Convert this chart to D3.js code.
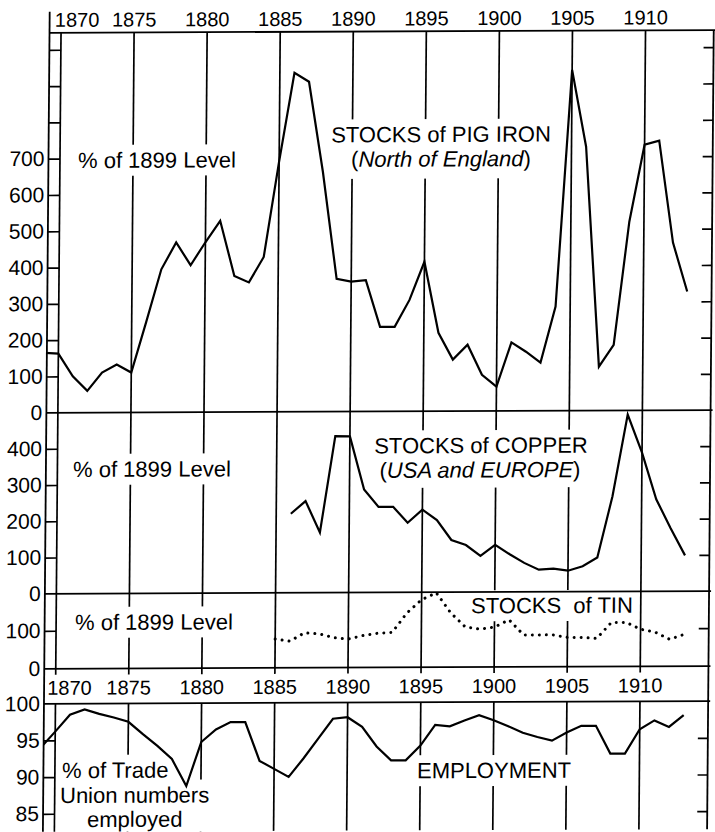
<!DOCTYPE html>
<meta charset="utf-8">
<head>
    <style>
        body {margin: 0; background: #fff;}
        svg text {font-family: "Liberation Sans", Arial, Helvetica, sans-serif; fill: #000;}
        .grid {stroke: #000; stroke-width: 1.7;}
        .frame {stroke: #000; stroke-width: 1.8; fill: none;}
        .series {fill: none; stroke: #000; stroke-width: 2.2;}
        .tin {fill: none; stroke: #000; stroke-width: 3; stroke-linecap: round; stroke-dasharray: 0.01 7;}
        .label {font-size: 22px;}
        .year {font-size: 20px;}
    </style>
    <script src="https://d3js.org/d3.v7.min.js"></script>
</head>
<body>
<script>

    // years on the x axis
    var years = d3.range(1869, 1914),
        copperYears = d3.range(1886, 1914),
        tinYears = d3.range(1885, 1914),
        tickYears = [1870, 1875, 1880, 1885, 1890, 1895, 1900, 1905, 1910];

    // stocks of pig iron, north of England, % of 1899 level (1869-1913)
    var pigIron = [165, 163, 100, 60, 110, 132, 110, 250, 394, 468,
                   405, 468, 527, 375, 357, 427, 690, 934, 909, 661,
                   366, 358, 362, 233, 233, 307, 412, 216, 142, 183,
                   100, 67, 189, 163, 133, 287, 939, 727, 121, 181,
                   520, 732, 743, 462, 327];

    // stocks of copper, USA and Europe (1886-1913)
    var copper = [218, 253, 166, 432, 431, 284, 236, 236, 192, 228,
                  199, 144, 130, 100, 130, 104, 80, 61, 64, 58,
                  70, 94, 262, 488, 383, 254, 174, 99];

    // stocks of tin (1885-1913)
    var tin = [76, 70, 92, 89, 79, 75, 84, 90, 92, 143,
               178, 196, 143, 106, 100, 105, 124, 84, 84, 84,
               77, 77, 74, 116, 116, 98, 90, 71, 84];

    // % of trade union members employed (1869-1913)
    var employment = [94.0, 96.2, 98.5, 99.2, 98.6, 98.1, 97.5, 95.8, 94.2, 92.4,
                      88.7, 94.7, 96.4, 97.4, 97.4, 92.1, 91.0, 89.9, 92.4, 95.1,
                      97.8, 98.0, 96.7, 94.0, 92.1, 92.1, 94.1, 96.9, 96.7, 97.5,
                      98.2, 97.5, 96.7, 95.8, 95.2, 94.7, 95.8, 96.7, 96.7, 92.9,
                      92.9, 96.2, 97.4, 96.5, 98.1];

    var ironLabels = [0, 100, 200, 300, 400, 500, 600, 700],
        ironTicks = [100, 200, 300, 400, 500, 600, 700, 800, 900, 1000],
        copperLabels = [0, 100, 200, 300, 400],
        copperTicks = [100, 200, 300, 400],
        tinLabels = [0, 100],
        tinTicks = [100],
        empLabels = [85, 90, 95, 100],
        empTicks = [85, 90, 95];

    var width = 715, height = 832,
        frameL = 49.8, frameR = 714,
        plotTop = 33, plotBottom = 832;

    var x = d3.scaleLinear().domain([1870, 1910]).range([61.3, 645.8]);

    var yIron = d3.scaleLinear().domain([0, 1000]).range([413, 50]),
        yCopper = d3.scaleLinear().domain([0, 400]).range([594, 449]),
        yTin = d3.scaleLinear().domain([0, 100]).range([669, 631]),
        yEmp = d3.scaleLinear().domain([85, 100]).range([814, 704]);

    var svg = d3.select("body").append("svg")
        .attr("width", width)
        .attr("height", height);

    svg.append("rect").attr("width", width).attr("height", height).attr("fill", "#fff");

    // the printed page is slightly sheared
    var shx = -0.0083, shy = -0.004;
    var chart = svg.append("g")
        .attr("transform", "matrix(1," + shy + "," + shx + ",1,0,0)");

    function spot(px, py) {
        var u = px - shx * py;
        return [u, py - shy * u];
    }

    // vertical year lines
    chart.append("g").selectAll("line").data(tickYears)
      .enter().append("line")
        .attr("class", "grid")
        .attr("x1", function(d) {return x(d)})
        .attr("x2", function(d) {return x(d)})
        .attr("y1", plotTop)
        .attr("y2", yTin(0) + 6);

    chart.append("g").selectAll("line").data(tickYears)
      .enter().append("line")
        .attr("class", "grid")
        .attr("x1", function(d) {return x(d)})
        .attr("x2", function(d) {return x(d)})
        .attr("y1", yEmp(100))
        .attr("y2", plotBottom);

    // text labels with white halos that break the grid
    var notes = [
        {lines: [{x: 78, y: 168, a: "start", parts: [["% of 1899 Level"]]}]},
        {lines: [{x: 441, y: 142, a: "middle", parts: [["STOCKS of PIG IRON"]]},
                 {x: 441, y: 166.5, a: "middle", parts: [["("], ["North of England", 1], [")"]]}], padB: 7},
        {lines: [{x: 73, y: 477, a: "start", parts: [["% of 1899 Level"]]}]},
        {lines: [{x: 481, y: 453, a: "middle", parts: [["STOCKS of COPPER"]]},
                 {x: 480, y: 477.5, a: "middle", parts: [["("], ["USA and EUROPE", 1], [")"]]}], padB: 5},
        {lines: [{x: 75, y: 630, a: "start", parts: [["% of 1899 Level"]]}]},
        {lines: [{x: 552, y: 613, a: "middle", parts: [["STOCKS\u00a0\u00a0of TIN"]]}]},
        {lines: [{x: 62, y: 778, a: "start", parts: [["% of Trade"]]}]},
        {lines: [{x: 60, y: 803, a: "start", parts: [["Union numbers"]]},
                 {x: 87, y: 827, a: "start", parts: [["employed"]]}], toBottom: true},
        {lines: [{x: 494, y: 778, a: "middle", parts: [["EMPLOYMENT"]]}]}
    ];

    notes.forEach(function(n) {
        var g = chart.append("g");
        n.lines.forEach(function(l) {
            var p = spot(l.x, l.y);
            var t = g.append("text")
                .attr("class", "label")
                .attr("x", p[0])
                .attr("y", p[1])
                .attr("text-anchor", l.a);
            l.parts.forEach(function(s) {
                t.append("tspan")
                    .style("font-style", s[1] ? "italic" : "normal")
                    .text(s[0]);
            });
        });
        var boxes = g.selectAll("text").nodes().map(function(e) {return e.getBBox()});
        var x0 = d3.min(boxes, function(b) {return b.x}) - 4,
            x1 = d3.max(boxes, function(b) {return b.x + b.width}) + 4,
            y0 = d3.min(boxes, function(b) {return b.y}) - 3,
            y1 = n.toBottom ? plotBottom : d3.max(boxes, function(b) {return b.y + b.height}) + (n.padB || 3);
        g.insert("rect", ":first-child")
            .attr("x", x0).attr("y", y0)
            .attr("width", x1 - x0).attr("height", y1 - y0)
            .attr("fill", "#fff");
    });

    // year labels, top and between tin and employment
    function yearLabels(yy, firstX) {
        chart.append("g").selectAll("text").data(tickYears)
          .enter().append("text")
            .attr("class", "year")
            .attr("x", function(d) {return d == 1870 ? firstX : x(d)})
            .attr("y", yy)
            .attr("text-anchor", function(d) {return d == 1870 ? "start" : "middle"})
            .text(function(d) {return d});
    }
    yearLabels(27, 55);
    yearLabels(695, 53);

    // left rungs, tick labels and right ticks
    function axes(scale, labels, rungs) {
        chart.append("g")
            .attr("transform", "translate(" + frameL + ",0)")
            .call(d3.axisRight(scale).tickValues(rungs).tickSize(x(1870) - frameL).tickFormat(""))
            .call(function(g) {g.select(".domain").remove()})
            .selectAll("line").attr("stroke-width", 1.7);

        chart.append("g")
            .attr("transform", "translate(" + frameL + ",0)")
            .call(d3.axisLeft(scale).tickValues(labels).tickSize(0).tickPadding(4))
            .attr("font-size", 21)
            .attr("font-family", null)
            .call(function(g) {g.select(".domain").remove()});

        chart.append("g")
            .attr("transform", "translate(" + frameR + ",0)")
            .call(d3.axisLeft(scale).tickValues(rungs).tickSize(10).tickFormat(""))
            .call(function(g) {g.select(".domain").remove()})
            .selectAll("line").attr("stroke-width", 1.7);
    }
    axes(yIron, ironLabels, ironTicks);
    axes(yCopper, copperLabels, copperTicks);
    axes(yTin, tinLabels, tinTicks);
    axes(yEmp, empLabels, empTicks);

    // frame and panel dividers
    var frame = chart.append("g").attr("class", "frame");
    frame.append("line").attr("x1", frameL).attr("x2", frameL).attr("y1", 12).attr("y2", plotBottom);
    frame.append("line").attr("x1", frameR).attr("x2", frameR).attr("y1", plotTop).attr("y2", plotBottom);
    frame.selectAll(".divider")
        .data([plotTop, yIron(0), yCopper(0), yTin(0), yEmp(100)])
      .enter().append("line")
        .attr("class", "divider")
        .attr("x1", frameL).attr("x2", frameR + 2)
        .attr("y1", function(d) {return d})
        .attr("y2", function(d) {return d});

    // data lines
    chart.append("clipPath").attr("id", "plot")
      .append("rect")
        .attr("x", frameL).attr("y", 0)
        .attr("width", frameR - frameL).attr("height", height);

    var plot = chart.append("g").attr("clip-path", "url(#plot)");

    function draw(yrs, vals, scale, cls) {
        plot.append("path")
            .datum(vals)
            .attr("class", cls)
            .attr("d", d3.line()
                .x(function(d, i) {return x(yrs[i])})
                .y(function(d) {return scale(d)}));
    }
    draw(years, pigIron, yIron, "series");
    draw(copperYears, copper, yCopper, "series");
    draw(tinYears, tin, yTin, "tin");
    draw(years, employment, yEmp, "series");

</script>
</body>
